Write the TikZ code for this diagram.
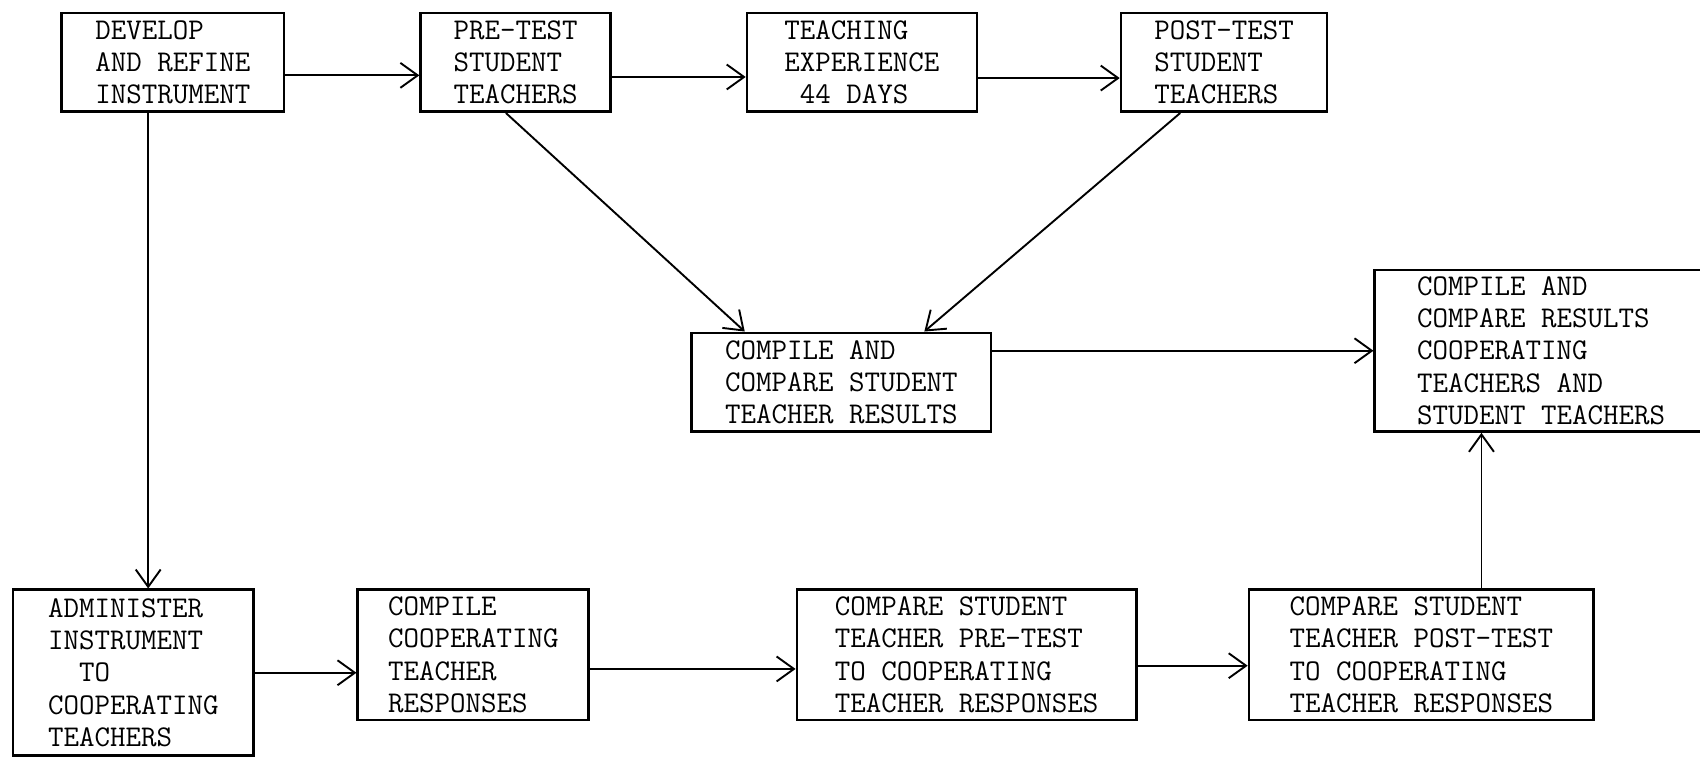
\documentclass[tikz,border=0pt]{standalone}
\usetikzlibrary{arrows.meta,calc}
\tikzset{
	stage/.style={draw, line width=1.4pt, align=left, inner sep=0pt, font=\ttfamily\fontsize{15.8}{17}\selectfont},
	flow/.style={line width=1pt, -{Straight Barb[length=3.2mm,width=4.6mm,line width=1pt]}}
}
\begin{document}
\begin{tikzpicture}[x=0.02cm,y=-0.02cm]
		\useasboundingbox (0,0) rectangle (1568,701);
		\node[stage, minimum width=4.1cm, minimum height=1.82cm] (dev) at (159.5,57.5) {DEVELOP\\AND REFINE\\INSTRUMENT};
		\node[stage, minimum width=3.5cm, minimum height=1.82cm] (pre) at (475.5,57.5) {PRE-TEST\\STUDENT\\TEACHERS};
		\node[stage, minimum width=4.24cm, minimum height=1.82cm] (teach) at (795,57.5) {TEACHING\\EXPERIENCE\\\ 44 DAYS};
		\node[stage, minimum width=3.8cm, minimum height=1.82cm] (post) at (1129,57.5) {POST-TEST\\STUDENT\\TEACHERS};
		\node[stage, minimum width=5.52cm, minimum height=1.82cm] (cmpst) at (776,352.5) {COMPILE AND\\COMPARE STUDENT\\TEACHER RESULTS};
		\node[stage, minimum width=6.14cm, minimum height=2.98cm] (final) at (1421.5,323.5) {COMPILE AND\\COMPARE RESULTS\\COOPERATING\\TEACHERS AND\\STUDENT TEACHERS};
		\node[stage, minimum width=4.44cm, minimum height=3.06cm] (adm) at (123,620.5) {ADMINISTER\\INSTRUMENT\\\ \ TO\\COOPERATING\\TEACHERS};
		\node[stage, minimum width=4.26cm, minimum height=2.4cm] (cc) at (436.5,604) {COMPILE\\COOPERATING\\TEACHER\\RESPONSES};
		\node[stage, minimum width=6.26cm, minimum height=2.4cm] (cmppre) at (891.5,604) {COMPARE STUDENT\\TEACHER PRE-TEST\\TO COOPERATING\\TEACHER RESPONSES};
		\node[stage, minimum width=6.36cm, minimum height=2.4cm] (cmppost) at (1311,604) {COMPARE STUDENT\\TEACHER POST-TEST\\TO COOPERATING\\TEACHER RESPONSES};
		\draw[flow] ($(dev.east)+(0,12)$) -- ($(pre.west)+(0,12)$);
		\draw[flow] ($(pre.east)+(0,13.5)$) -- ($(teach.west)+(0,13.5)$);
		\draw[flow] ($(teach.east)+(0,14.5)$) -- ($(post.west)+(0,14.5)$);
		\draw[flow] ($(pre.south west)!0.45!(pre.south east)$) -- ($(cmpst.north west)!0.18!(cmpst.north east)$);
		\draw[flow] ($(post.south west)!0.29!(post.south east)$) -- ($(cmpst.north west)!0.775!(cmpst.north east)$);
		\draw[flow] (cmpst.east |- final.west) -- (final.west);
		\draw[flow] ($(dev.south west)!0.39!(dev.south east)$) coordinate (d1) -- (d1 |- adm.north);
		\draw[flow] (adm.east) -- (adm.east -| cc.west);
		\draw[flow] ($(cc.east)+(0,13)$) -- ($(cmppre.west)+(0,13)$);
		\draw[flow] ($(cmppre.east)+(0,10)$) -- ($(cmppost.west)+(0,10)$);
		\draw[flow] ($(cmppost.north west)!0.673!(cmppost.north east)$) coordinate (p1) -- (p1 |- final.south);
	\end{tikzpicture}
\end{document}
